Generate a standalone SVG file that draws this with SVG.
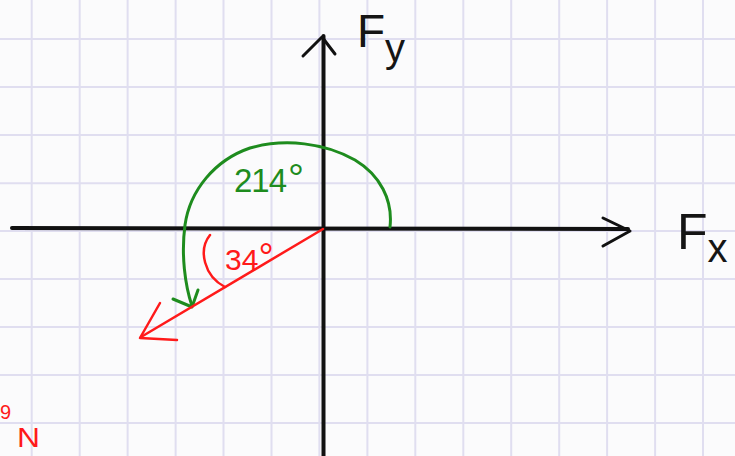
<svg xmlns="http://www.w3.org/2000/svg" width="735" height="456" viewBox="0 0 735 456">
<style>
.grid line{stroke:#e0def0;stroke-width:2}
.ax{stroke:#111;stroke-width:4;fill:none;stroke-linecap:round;stroke-linejoin:round}
.axh{stroke:#111;stroke-width:3;fill:none;stroke-linecap:round;stroke-linejoin:round}
.grn{stroke:#1e8c1e;stroke-width:3;fill:none;stroke-linecap:round;stroke-linejoin:round}
.red{stroke:#ff1a1a;stroke-width:2.5;fill:none;stroke-linecap:round;stroke-linejoin:round}
text{font-family:"Liberation Sans",Arial,sans-serif}
.tk{fill:#151515}
.tg{fill:#1e8c1e}
.tr{fill:#ff1a1a}
</style>
<rect width="735" height="456" fill="#fbfbfc"/>
<g id="grid" class="grid">
<line x1="31.7" y1="0" x2="31.7" y2="456"/>
<line x1="79.7" y1="0" x2="79.7" y2="456"/>
<line x1="127.6" y1="0" x2="127.6" y2="456"/>
<line x1="175.6" y1="0" x2="175.6" y2="456"/>
<line x1="223.5" y1="0" x2="223.5" y2="456"/>
<line x1="271.5" y1="0" x2="271.5" y2="456"/>
<line x1="319.4" y1="0" x2="319.4" y2="456"/>
<line x1="367.4" y1="0" x2="367.4" y2="456"/>
<line x1="415.3" y1="0" x2="415.3" y2="456"/>
<line x1="463.3" y1="0" x2="463.3" y2="456"/>
<line x1="511.2" y1="0" x2="511.2" y2="456"/>
<line x1="559.2" y1="0" x2="559.2" y2="456"/>
<line x1="607.1" y1="0" x2="607.1" y2="456"/>
<line x1="655.1" y1="0" x2="655.1" y2="456"/>
<line x1="703" y1="0" x2="703" y2="456"/>
<line x1="0" y1="39" x2="735" y2="39"/>
<line x1="0" y1="87" x2="735" y2="87"/>
<line x1="0" y1="135" x2="735" y2="135"/>
<line x1="0" y1="183.3" x2="735" y2="183.3"/>
<line x1="0" y1="231" x2="735" y2="231"/>
<line x1="0" y1="279" x2="735" y2="279"/>
<line x1="0" y1="327" x2="735" y2="327"/>
<line x1="0" y1="375" x2="735" y2="375"/>
<line x1="0" y1="423" x2="735" y2="423"/>
</g>
<g id="connectors">
<g id="x-axis">
<line class="ax" x1="12" y1="228" x2="628" y2="229"/>
<polyline class="axh" points="603,218 630,231 603,246"/>
</g>
<g id="y-axis">
<line class="ax" x1="323.5" y1="36" x2="323.5" y2="460"/>
<polyline class="axh" points="303,56 322,37 335,54"/>
</g>
<g id="angle-214">
<path class="grn" d="M390,227 C393,200 380,175 355,160 C325,143 285,138 250,148 C215,160 190,190 185,225 C181,255 185,285 192,306"/>
<polyline class="grn" points="173,299 192,307 198,290"/>
</g>
<g id="force-vector">
<line class="red" x1="323" y1="229" x2="141" y2="337"/>
<polyline class="red" points="160,303 140,338 177,340"/>
</g>
<g id="angle-34">
<path class="red" d="M210,235 C198,250 204,276 225,287"/>
</g>
</g>
<g id="label-fy">
<text class="tk" x="357" y="47" font-size="46">F<tspan font-size="40" dy="15">y</tspan></text>
</g>
<g id="label-fx">
<text class="tk" x="677" y="249" font-size="50">F<tspan font-size="40" dy="13">x</tspan></text>
</g>
<g id="label-214">
<text class="tg" x="234" y="192" font-size="33" letter-spacing="-1">214<tspan font-size="40" dx="2">°</tspan></text>
</g>
<g id="label-34">
<text class="tr" x="225" y="270" font-size="30">34<tspan font-size="38">°</tspan></text>
</g>
<g id="label-corner">
<text class="tr" x="0" y="419" font-size="20">9</text>
<text class="tr" x="17" y="447" font-size="28" textLength="23" lengthAdjust="spacingAndGlyphs">N</text>
</g>
</svg>
